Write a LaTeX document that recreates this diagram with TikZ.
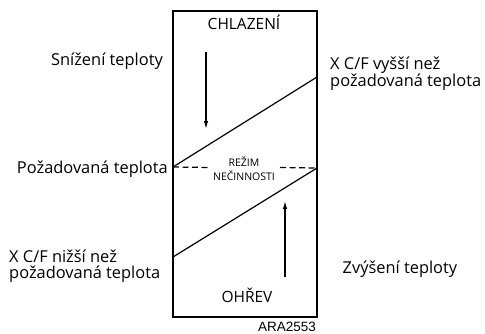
\documentclass[tikz,border=0pt]{standalone}
\usepackage{fontspec}
\setmainfont{Open Sans}
\newfontfamily\arialfont{Liberation Sans}
\usetikzlibrary{arrows.meta}
\begin{document}
\begin{tikzpicture}[x=1pt,y=-1pt,
  lbl/.style={font=\fontsize{16.4}{16}\selectfont, inner sep=0pt},
  small/.style={font=\fontsize{15.5}{16}\selectfont, inner sep=0pt, anchor=base},
  tiny/.style={font=\fontsize{10.5}{14}\selectfont, inner sep=0pt, anchor=base, align=center},
  ln/.style={line width=1.2pt},
  arr/.style={line width=1.2pt, -{Latex[length=8pt,width=4.5pt]}}]
\useasboundingbox (0,0) rectangle (485,333);
\draw[ln] (173,11) rectangle (317,317);
\coordinate (ul) at (173,167);
\coordinate (ur) at (317,77);
\coordinate (ll) at (173,257);
\coordinate (lr) at (317,168);
\coordinate (g1) at (210,167.5);
\coordinate (g2) at (280,167.5);
\draw[ln] (ul) -- (ur);
\draw[ln] (ll) -- (lr);
\draw[ln, dash pattern=on 6pt off 3.5pt] (ul) -- (g1);
\draw[ln, dash pattern=on 6pt off 3.5pt] (g2) -- (lr);
\node[tiny] (idle) at (244,180.5) {REŽIM\\NEČINNOSTI};
\node[small] (cool) at (244,29) {CHLAZENÍ};
\node[small] (heat) at (247,302.5) {OHŘEV};
\coordinate (d1) at (206,52);
\coordinate (d2) at (206,129);
\coordinate (u1) at (285,277);
\coordinate (u2) at (285,201);
\draw[arr] (d1) -- (d2);
\draw[arr] (u1) -- (u2);
\node[lbl, anchor=base east] (sn) at (163,65) {Snížení teploty};
\node[lbl, anchor=base east] (poz) at (168,173) {Požadovaná teplota};
\node[lbl, anchor=base west, align=left] (low) at (9,278.3) {X C/F nižší než\\požadovaná teplota};
\node[lbl, anchor=base west, align=left] (high) at (330,86.7) {X C/F vyšší než\\požadovaná teplota};
\node[lbl, anchor=base west] (zv) at (342.5,273.3) {Zvýšení teploty};
\node[font=\arialfont\fontsize{13.5}{14}\selectfont, inner sep=0pt, anchor=base] (code) at (287,331.5) {ARA2553};
\end{tikzpicture}
\end{document}
